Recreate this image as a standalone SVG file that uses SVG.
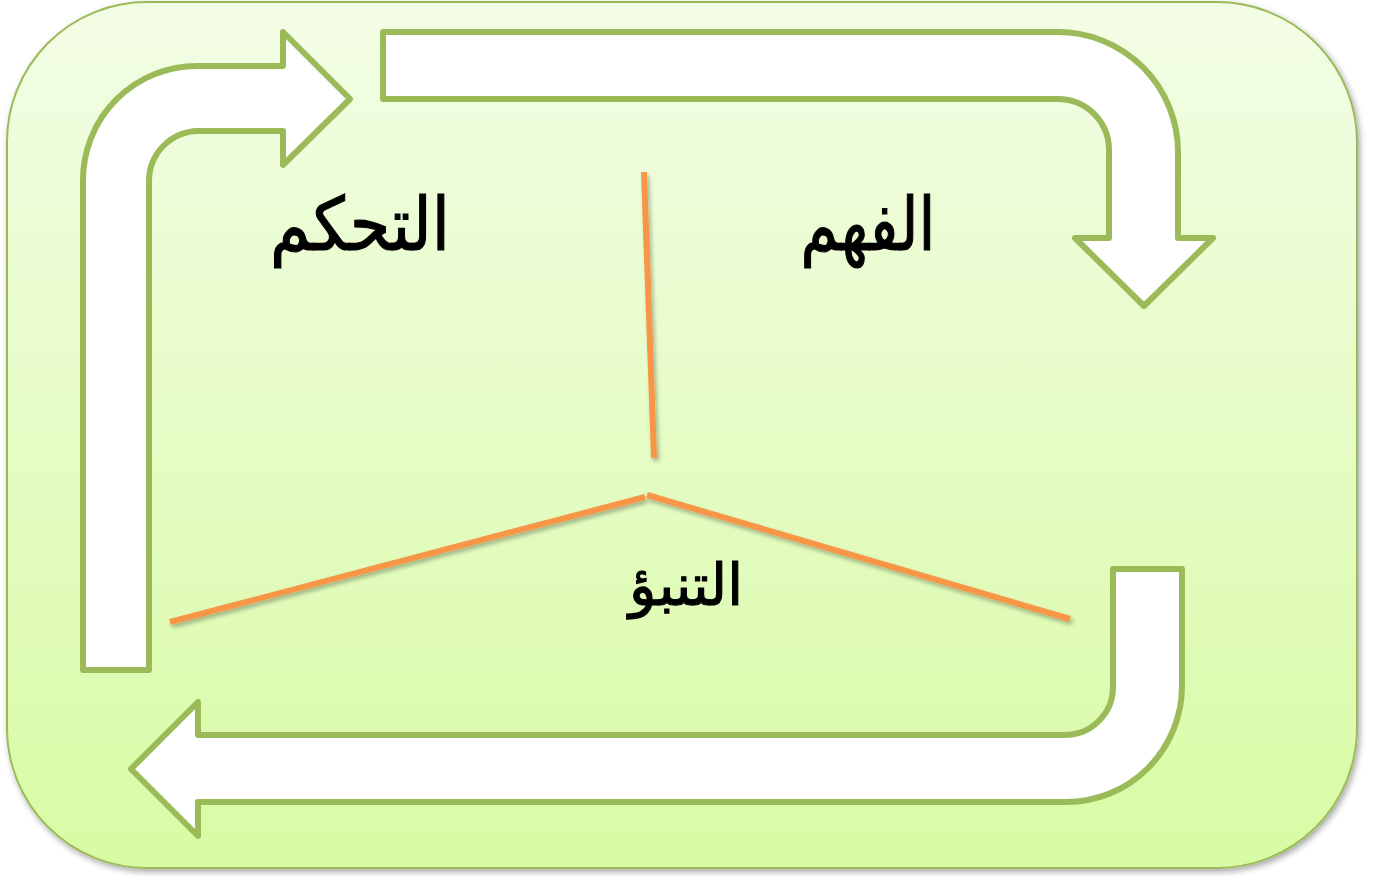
<svg xmlns="http://www.w3.org/2000/svg" width="1373" height="877" viewBox="0 0 1373 877">
<defs>
<linearGradient id="bg" x1="0" y1="0" x2="0" y2="1">
<stop offset="0" stop-color="#f3fde6"/>
<stop offset="1" stop-color="#d8fba4"/>
</linearGradient>
<filter id="sh" x="-5%" y="-5%" width="110%" height="110%">
<feGaussianBlur in="SourceAlpha" stdDeviation="3"/>
<feOffset dx="2" dy="3"/>
<feComponentTransfer><feFuncA type="linear" slope="0.35"/></feComponentTransfer>
<feMerge><feMergeNode/><feMergeNode in="SourceGraphic"/></feMerge>
</filter>
<filter id="lsh" x="-10%" y="-10%" width="120%" height="120%">
<feGaussianBlur in="SourceAlpha" stdDeviation="2"/>
<feOffset dx="2" dy="3"/>
<feComponentTransfer><feFuncA type="linear" slope="0.3"/></feComponentTransfer>
<feMerge><feMergeNode/><feMergeNode in="SourceGraphic"/></feMerge>
</filter>
</defs>
<style>
.arr{fill:#ffffff;stroke:#9bbb59;stroke-width:6;stroke-linejoin:round}
.ln{stroke:#f79646;stroke-width:6;fill:none}
.lbl{font-family:"DejaVu Sans","Noto Sans",sans-serif;font-weight:normal;fill:#000;stroke:#000;stroke-width:1.2;text-anchor:middle}
</style>
<g id="background">
<rect x="7" y="2" width="1350" height="866" rx="140" ry="140" fill="url(#bg)" stroke="#9bbb59" stroke-width="2" filter="url(#sh)"/>
</g>
<g id="connectors">
<path id="arrow-top-left" class="arr" d="M83,670 L83,180 A114,114 0 0 1 197,66 L283,66 L283,32 L350,99 L283,165 L283,131 L198,131 A50,50 0 0 0 149,181 L149,670 Z"/>
<path id="arrow-top-right" class="arr" d="M383,32 L1058,32 A120,120 0 0 1 1178,152 L1178,238 L1213,238 L1144,306 L1075,238 L1109,238 L1109,150 A51,51 0 0 0 1058,99 L383,99 Z"/>
<path id="arrow-bottom" class="arr" d="M1113,569 L1182,569 L1182,686 A116,116 0 0 1 1066,802 L198,802 L198,836 L131,769 L198,702 L198,735 L1065,735 A48,48 0 0 0 1113,687 Z"/>
<g filter="url(#lsh)">
<line class="ln" x1="644" y1="172" x2="654" y2="458"/>
<line class="ln" x1="170" y1="622" x2="645" y2="497"/>
<line class="ln" x1="647" y1="495" x2="1070" y2="619"/>
</g>
</g>
<g id="node-control">
<text class="lbl" x="360" y="250" font-size="74" direction="rtl" textLength="180" lengthAdjust="spacingAndGlyphs">التحكم</text>
</g>
<g id="node-understanding">
<text class="lbl" x="868" y="250" font-size="74" direction="rtl" textLength="135" lengthAdjust="spacingAndGlyphs">الفهم</text>
</g>
<g id="node-prediction">
<text class="lbl" x="686" y="605" font-size="58" direction="rtl" textLength="114" lengthAdjust="spacingAndGlyphs">التنبؤ</text>
</g>
</svg>
